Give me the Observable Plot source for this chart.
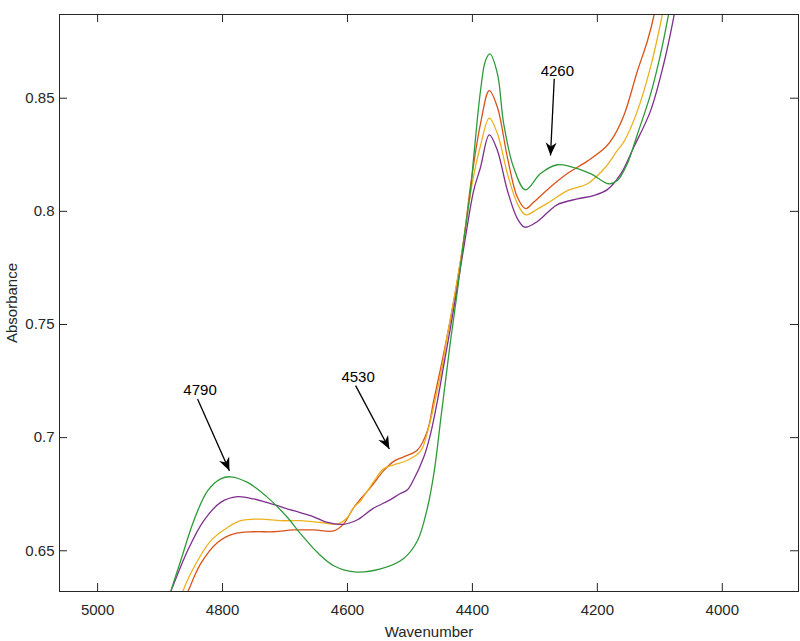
<!DOCTYPE html>
<html>
<head>
<meta charset="utf-8">
<script src="https://cdn.jsdelivr.net/npm/d3@7"></script>
<script src="https://cdn.jsdelivr.net/npm/@observablehq/plot@0.6"></script>
<style>
  html, body { margin: 0; padding: 0; background: #fff; }
  #chart svg { display: block; }
</style>
</head>
<body>
<div id="chart"></div>
<script>
// ---- Data ----
const greenWn  = [4892, 4883, 4867, 4846, 4824, 4803, 4787, 4760, 4728, 4696, 4675, 4648, 4622, 4589, 4547, 4510, 4488, 4472, 4461, 4451, 4443, 4435, 4425, 4414, 4403, 4398, 4387, 4379, 4372, 4360, 4350, 4334, 4315, 4291, 4264, 4243, 4211, 4182, 4168, 4152, 4136, 4115, 4099, 4086, 4079];
const greenAbs = [0.6235, 0.6319, 0.6456, 0.6633, 0.6765, 0.6818, 0.6827, 0.6802, 0.6736, 0.6647, 0.6575, 0.6492, 0.6434, 0.6407, 0.6420, 0.6466, 0.6544, 0.6690, 0.6854, 0.7075, 0.7252, 0.7429, 0.7628, 0.7871, 0.8092, 0.8238, 0.8534, 0.8667, 0.8696, 0.8609, 0.8388, 0.8194, 0.8095, 0.8167, 0.8206, 0.8198, 0.8167, 0.8122, 0.8136, 0.8211, 0.8340, 0.8516, 0.8693, 0.8870, 0.8976];

const purpleWn  = [4895, 4883, 4878, 4856, 4830, 4803, 4776, 4750, 4723, 4686, 4659, 4632, 4606, 4584, 4560, 4532, 4516, 4504, 4494, 4478, 4467, 4456, 4446, 4436, 4425, 4412, 4398, 4387, 4373, 4360, 4344, 4328, 4316, 4296, 4278, 4264, 4232, 4206, 4184, 4163, 4142, 4115, 4094, 4080, 4070];
const purpleAbs = [0.6235, 0.6319, 0.6354, 0.6500, 0.6633, 0.6714, 0.6739, 0.6729, 0.6708, 0.6677, 0.6655, 0.6625, 0.6617, 0.6637, 0.6685, 0.6725, 0.6752, 0.6770, 0.6815, 0.6913, 0.7017, 0.7163, 0.7318, 0.7473, 0.7650, 0.7871, 0.8092, 0.8195, 0.8338, 0.8269, 0.8092, 0.7968, 0.7930, 0.7955, 0.7999, 0.8030, 0.8055, 0.8070, 0.8096, 0.8163, 0.8282, 0.8443, 0.8649, 0.8826, 0.8980];

const yellowWn  = [4871, 4864, 4846, 4819, 4792, 4771, 4739, 4707, 4675, 4643, 4616, 4600, 4590, 4579, 4568, 4557, 4542, 4526, 4504, 4483, 4470, 4460, 4449, 4440, 4427, 4414, 4401, 4387, 4373, 4360, 4344, 4328, 4315, 4296, 4278, 4248, 4216, 4187, 4168, 4157, 4136, 4115, 4096, 4089];
const yellowAbs = [0.6235, 0.6316, 0.6426, 0.6544, 0.6603, 0.6633, 0.6640, 0.6633, 0.6633, 0.6625, 0.6618, 0.6647, 0.6691, 0.6721, 0.6765, 0.6810, 0.6863, 0.6880, 0.6900, 0.6940, 0.7045, 0.7163, 0.7305, 0.7455, 0.7650, 0.7871, 0.8114, 0.8291, 0.8412, 0.8344, 0.8167, 0.8034, 0.7985, 0.8010, 0.8039, 0.8092, 0.8122, 0.8195, 0.8269, 0.8310, 0.8443, 0.8636, 0.8870, 0.8980];

const redWn  = [4869, 4856, 4835, 4808, 4782, 4750, 4718, 4686, 4654, 4622, 4606, 4590, 4563, 4542, 4526, 4510, 4488, 4472, 4462, 4451, 4440, 4427, 4414, 4403, 4387, 4373, 4360, 4344, 4328, 4315, 4302, 4280, 4248, 4216, 4187, 4173, 4157, 4136, 4120, 4109, 4102];
const redAbs = [0.6235, 0.6316, 0.6443, 0.6537, 0.6575, 0.6584, 0.6584, 0.6592, 0.6592, 0.6588, 0.6619, 0.6691, 0.6780, 0.6854, 0.6895, 0.6915, 0.6945, 0.7031, 0.7163, 0.7305, 0.7455, 0.7650, 0.7871, 0.8114, 0.8388, 0.8534, 0.8460, 0.8239, 0.8062, 0.8012, 0.8040, 0.8096, 0.8167, 0.8222, 0.8283, 0.8335, 0.8428, 0.8619, 0.8752, 0.8870, 0.8980];

// annotations
const noteText   = ["4790", "4530", "4260"];
const noteWn     = [4836, 4583, 4264];
const noteAbs    = [0.7208, 0.7269, 0.8621];
const arrowWn1   = [4840, 4587, 4269];
const arrowAbs1  = [0.7171, 0.7230, 0.8586];
const arrowWn2   = [4789, 4533, 4275];
const arrowAbs2  = [0.6854, 0.6950, 0.8247];

// axis ticks
const xTicks = [5000, 4800, 4600, 4400, 4200, 4000];
const yTicks = [0.65, 0.7, 0.75, 0.8, 0.85];
const xDomain = [5061, 3878];
const yDomain = [0.632, 0.887];

// ---- Build tables ----
const series = [
  {name: "red",    color: "#D95319", wn: redWn,    abs: redAbs},
  {name: "yellow", color: "#EDB120", wn: yellowWn, abs: yellowAbs},
  {name: "purple", color: "#7E2F8E", wn: purpleWn, abs: purpleAbs},
  {name: "green",  color: "#2E9B3A", wn: greenWn,  abs: greenAbs}
];
const notes = noteText.map((t, i) => ({t, x: noteWn[i], y: noteAbs[i]}));
const arrows = arrowWn1.map((_, i) => ({x1: arrowWn1[i], y1: arrowAbs1[i], x2: arrowWn2[i], y2: arrowAbs2[i]}));

const W = 800, H = 641;
const mTop = 14, mBottom = 50, mLeft = 59, mRight = 2;
const plotH = H - mTop - mBottom, plotW = W - mLeft - mRight;
const axisColor = "#262626";
const tickLen = 8;

function headMarker(color, context) {
  const doc = (context && context.document) || document;
  const ns = "http://www.w3.org/2000/svg";
  const m = doc.createElementNS(ns, "marker");
  m.setAttribute("viewBox", "-13 -6 14 12");
  m.setAttribute("markerWidth", "14");
  m.setAttribute("markerHeight", "12");
  m.setAttribute("markerUnits", "userSpaceOnUse");
  m.setAttribute("orient", "auto");
  m.setAttribute("refX", "0");
  m.setAttribute("refY", "0");
  const p = doc.createElementNS(ns, "path");
  p.setAttribute("d", "M0,0L-13,-5.5L-9,0L-13,5.5Z");
  p.setAttribute("fill", color);
  p.setAttribute("stroke", "none");
  m.appendChild(p);
  return m;
}

const lineMarks = series.map(s =>
  Plot.line(s.wn.map((w, i) => ({w, a: s.abs[i]})), {
    x: "w", y: "a", stroke: s.color, strokeWidth: 1.3, curve: "catmull-rom", clip: true
  })
);

const chart = Plot.plot({
  width: W,
  height: H,
  marginTop: mTop,
  marginBottom: mBottom,
  marginLeft: mLeft,
  marginRight: mRight,
  style: {fontFamily: "'Liberation Sans', Arial, Helvetica, sans-serif", fontSize: "15px", color: axisColor, background: "#fff"},
  x: {domain: xDomain, axis: null},
  y: {domain: yDomain, axis: null},
  marks: [
    ...lineMarks,
    Plot.link(arrows, {x1: "x1", y1: "y1", x2: "x2", y2: "y2", stroke: "#000", strokeWidth: 1.3, markerEnd: headMarker}),
    Plot.text(notes, {x: "x", y: "y", text: "t", fill: "#000", fontSize: 15, textAnchor: "middle", lineAnchor: "middle"}),
    Plot.frame({stroke: axisColor, strokeWidth: 1}),
    // inward ticks, bottom and top
    Plot.tickX(xTicks, {x: d => d, insetTop: plotH - tickLen, stroke: axisColor}),
    Plot.tickX(xTicks, {x: d => d, insetBottom: plotH - tickLen, stroke: axisColor}),
    // inward ticks, left and right
    Plot.tickY(yTicks, {y: d => d, insetRight: plotW - tickLen, stroke: axisColor}),
    Plot.tickY(yTicks, {y: d => d, insetLeft: plotW - tickLen, stroke: axisColor}),
    Plot.axisX(xTicks, {tickSize: 0, tickPadding: 13, fontSize: 15, fill: axisColor, label: null, tickFormat: d => String(d)}),
    Plot.axisY(yTicks, {tickSize: 0, tickPadding: 5, fontSize: 15, fill: axisColor, label: null, tickFormat: d => String(d)}),
    Plot.text(["Absorbance"], {frameAnchor: "left", dx: -47, rotate: -90, fontSize: 15, fill: axisColor, textAnchor: "middle", lineAnchor: "middle", text: d => d}),
    Plot.text(["Wavenumber"], {frameAnchor: "bottom", dy: 41, fontSize: 15, fill: axisColor, textAnchor: "middle", lineAnchor: "middle", text: d => d})
  ]
});
document.getElementById("chart").appendChild(chart);
</script>
</body>
</html>
